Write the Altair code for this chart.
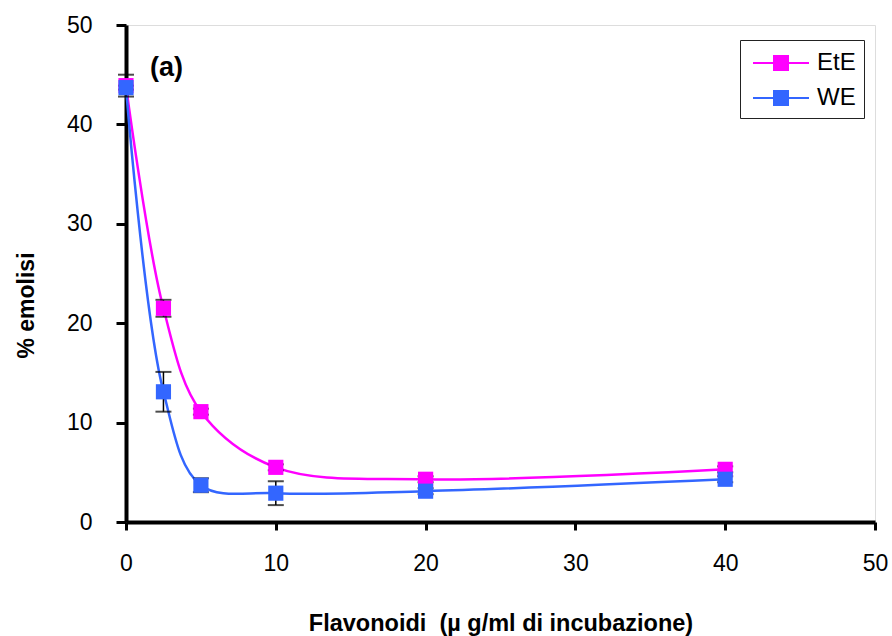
import altair as alt
import pandas as pd

conc = [0, 2.5, 5, 10, 20, 40]
ete_mean = [43.9, 21.5, 11.1, 5.5, 4.3, 5.3]
ete_err = [1.1, 0.85, 0.3, 0.3, 0.3, 0.3]
we_mean = [43.7, 13.1, 3.7, 2.9, 3.1, 4.3]
we_err = [0.2, 2.0, 0.7, 1.2, 0.3, 0.3]
series_names = ["EtE", "WE"]
series_colors = ["#FF00FF", "#3366FF"]

rows = []
for name, means, errs in [("EtE", ete_mean, ete_err), ("WE", we_mean, we_err)]:
    for x, m, e in zip(conc, means, errs):
        rows.append({"x": x, "y": m, "lo": m - e, "hi": m + e, "serie": name})
df = pd.DataFrame(rows)

FONT = "Liberation Sans"

xscale = alt.Scale(domain=[0, 50], nice=False, zero=False)
yscale = alt.Scale(domain=[0, 50], nice=False)
color = alt.Color(
    "serie:N",
    scale=alt.Scale(domain=series_names, range=series_colors),
    legend=alt.Legend(
        title=None,
        orient="none",
        legendX=614,
        legendY=15,
        direction="vertical",
        symbolType="M-2,0H2M-0.5,-0.5H0.5V0.5H-0.5Z",
        symbolSize=784,
        symbolStrokeWidth=2,
        labelFont=FONT,
        labelFontSize=24,
        labelColor="black",
        rowPadding=8,
        strokeColor="#222222",
        padding=8,
        labelOffset=21,
        symbolOffset=18,
    ),
)

base = alt.Chart(df)

x_enc = alt.X(
    "x:Q",
    scale=xscale,
    axis=alt.Axis(
        values=[0, 10, 20, 30, 40, 50],
        title="Flavonoidi\u00a0\u00a0(\u00b5 g/ml di incubazione)",
        titleFont=FONT,
        titleFontSize=23.5,
        titleFontWeight="bold",
        titlePadding=36,
        labelFont=FONT,
        labelFontSize=23,
        labelPadding=22,
        labelColor="black",
        tickSize=8,
        tickWidth=3,
        tickColor="black",
        domainWidth=4,
        domainColor="black",
        grid=False,
        labelFlush=False,
    ),
)
y_enc = alt.Y(
    "y:Q",
    scale=yscale,
    axis=alt.Axis(
        values=[0, 10, 20, 30, 40, 50],
        title="% emolisi",
        titleFont=FONT,
        titleFontSize=23,
        titleFontWeight="bold",
        titlePadding=28,
        titleY=280,
        labelFont=FONT,
        labelFontSize=23,
        labelPadding=24,
        labelColor="black",
        tickSize=10,
        tickWidth=3,
        tickColor="black",
        domainWidth=4,
        domainColor="black",
        grid=False,
    ),
)

err_stem = base.mark_rule(color="black", strokeWidth=1.5).encode(
    x=alt.X("x:Q", scale=xscale), y=alt.Y("lo:Q", scale=yscale), y2="hi:Q"
)
err_lo = base.mark_tick(color="black", orient="horizontal", size=16, thickness=2).encode(
    x=alt.X("x:Q", scale=xscale), y=alt.Y("lo:Q", scale=yscale)
)
err_hi = base.mark_tick(color="black", orient="horizontal", size=16, thickness=2).encode(
    x=alt.X("x:Q", scale=xscale), y=alt.Y("hi:Q", scale=yscale)
)

lines = base.mark_line(interpolate="catmull-rom", strokeWidth=2.5).encode(
    x=x_enc, y=y_enc, color=color, order="x:Q"
)
points = base.mark_point(shape="square", filled=True, size=230, opacity=1).encode(
    x=alt.X("x:Q", scale=xscale), y=alt.Y("y:Q", scale=yscale),
    color=alt.Color("serie:N", scale=alt.Scale(domain=series_names, range=series_colors), legend=None),
)

label_df = pd.DataFrame({"t": ["(a)"], "x": [1.6], "y": [45.7]})
label = alt.Chart(label_df).mark_text(
    font=FONT, fontSize=27, fontWeight="bold", align="left", baseline="middle", color="black"
).encode(x=alt.X("x:Q", scale=xscale), y=alt.Y("y:Q", scale=yscale), text="t:N")

chart = (
    alt.layer(lines, err_stem, err_lo, err_hi, points, label)
    .properties(
        width=749,
        height=497,
        autosize=alt.AutoSizeParams(type="none"),
        padding={"left": 126, "top": 25, "right": 17, "bottom": 114},
    )
    .configure_view(stroke="black", strokeWidth=1.5)
    .configure(background="white")
)

chart.save("out.html", embed_options={"renderer": "svg", "actions": False})
